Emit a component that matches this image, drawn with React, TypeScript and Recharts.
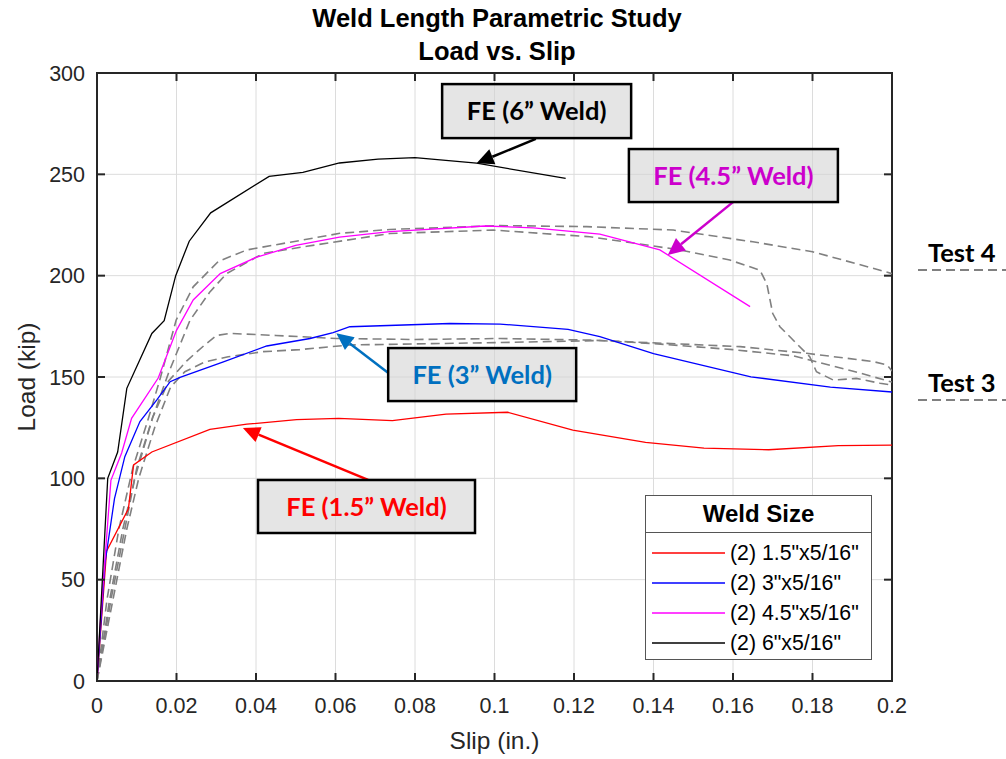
import React from "react";
import {
  LineChart,
  Line,
  XAxis,
  YAxis,
  CartesianGrid,
  ReferenceArea,
  ReferenceLine,
  ReferenceDot,
  Legend,
} from "recharts";

const WIDTH = 1006;
const HEIGHT = 759;
const X_AXIS_H = 30;
const Y_AXIS_W = 60;
// plot box runs 97..892 across and 73..681 down
const MARGIN = { top: 73, right: 114, bottom: 78 - X_AXIS_H, left: 97 - Y_AXIS_W };
const PLOT_W = 795;
const PLOT_H = 608;
const TICK_LEN = 8;
const X_GAP = 17;
const Y_GAP = 12;
const AXIS = "#262626";
const SANS = "'Liberation Sans', Arial, sans-serif";
const CALLOUT_FONT = "Lato, 'Noto Sans', sans-serif";

const xTicks = [0, 0.02, 0.04, 0.06, 0.08, 0.1, 0.12, 0.14, 0.16, 0.18, 0.2];
const yTicks = [0, 50, 100, 150, 200, 250, 300];

// FE curves, [slip (in.), load (kip)]
const fe15: [number, number][] = [
  [0, 0], [0.0024, 64], [0.0079, 85], [0.0092, 106.6], [0.0138, 113], [0.0284, 124.2],
  [0.0377, 126.7], [0.0502, 129], [0.0608, 129.6], [0.0743, 128.5], [0.0878, 131.7],
  [0.1033, 132.6], [0.1197, 123.8], [0.138, 117.7], [0.1527, 114.9], [0.169, 114.1],
  [0.1865, 116.1], [0.2, 116.4],
];
const fe3: [number, number][] = [
  [0, 0], [0.002, 58], [0.0044, 90], [0.007, 110.7], [0.0108, 128], [0.015, 138.6],
  [0.0184, 147.7], [0.0209, 149.8], [0.0318, 157.5], [0.0427, 165.3], [0.0536, 169],
  [0.0594, 171.9], [0.0636, 174.8], [0.0888, 176.4], [0.1014, 176.1], [0.1185, 173.5],
  [0.1265, 169.9], [0.14, 161.5], [0.1645, 150.1], [0.1845, 145], [0.2, 142.6],
];
const fe45: [number, number][] = [
  [0, 0], [0.0008, 28], [0.002, 60], [0.0035, 99], [0.0062, 112.5], [0.0087, 129.6],
  [0.0154, 149.5], [0.02, 173], [0.0242, 188], [0.031, 201], [0.04, 209], [0.05, 215],
  [0.061, 219], [0.0737, 221.7], [0.0976, 224.5], [0.1098, 223.6], [0.1265, 220.5],
  [0.1416, 212.7], [0.1643, 184.7],
];
const fe6: [number, number][] = [
  [0, 0], [0.0027, 100], [0.0052, 113], [0.0075, 144.4], [0.0138, 171.5], [0.0169, 177.8],
  [0.0198, 200], [0.0232, 217], [0.0286, 231], [0.0433, 249], [0.0518, 251], [0.061, 255.6],
  [0.0707, 257.5], [0.08, 258.2], [0.0955, 255.5], [0.1179, 248],
];

// test records (dashed)
const test4a: [number, number][] = [
  [0, 0], [0.0025, 40], [0.0055, 75], [0.009, 105], [0.013, 130], [0.016, 150],
  [0.0199, 178], [0.0242, 194.5], [0.0305, 207], [0.0377, 212.7], [0.0486, 216.5],
  [0.0611, 220.9], [0.0737, 222.8], [0.1014, 224.7], [0.1232, 224.2], [0.145, 222.5],
  [0.165, 216.7], [0.18, 211.8], [0.197, 202.7], [0.2, 201],
];
const test4b: [number, number][] = [
  [0, 0], [0.003, 38], [0.0065, 75], [0.0095, 100], [0.014, 130], [0.018, 152],
  [0.0234, 178], [0.0284, 192], [0.0326, 201], [0.0418, 211], [0.0528, 214.5],
  [0.0737, 220.8], [0.0997, 222.5], [0.124, 219.2], [0.1467, 212.7], [0.1592, 207.7],
  [0.1668, 202.7], [0.1685, 196], [0.17, 181.3], [0.1718, 174.8], [0.176, 166.5],
  [0.1793, 160], [0.181, 152.6], [0.1852, 148.5], [0.191, 149.3], [0.197, 146.9], [0.2, 146],
];
const test3a: [number, number][] = [
  [0, 0], [0.0035, 40], [0.007, 75], [0.01, 105], [0.014, 130], [0.018, 148],
  [0.0226, 158], [0.0272, 166], [0.0301, 170.5], [0.0335, 171.5], [0.045, 170.5],
  [0.0603, 169], [0.08, 168.5], [0.1014, 169], [0.124, 168.2], [0.1618, 165],
  [0.1785, 161.7], [0.1953, 157.6], [0.1987, 156], [0.2, 153],
];
const test3b: [number, number][] = [
  [0, 0], [0.004, 40], [0.0075, 75], [0.0105, 100], [0.0145, 125], [0.0185, 145],
  [0.0221, 152.6], [0.0272, 157.5], [0.033, 160], [0.0418, 162.5], [0.051, 163.5],
  [0.0636, 165.8], [0.1014, 167], [0.1265, 168], [0.14, 166.5], [0.16, 163.5],
  [0.175, 160.5], [0.19, 153], [0.2, 147.5],
];

const feSeries = [
  { name: '(2) 1.5"x5/16"', color: "#ff0000", points: fe15 },
  { name: '(2) 3"x5/16"', color: "#0000ff", points: fe3 },
  { name: '(2) 4.5"x5/16"', color: "#ff00ff", points: fe45 },
  { name: '(2) 6"x5/16"', color: "#000000", points: fe6 },
];
const testSeries = [
  { name: "Test 4a", points: test4a },
  { name: "Test 4b", points: test4b },
  { name: "Test 3a", points: test3a },
  { name: "Test 3b", points: test3b },
];

// callouts: box centre and arrow in data units, box size in px
const callouts = [
  { text: "FE (6\u201D Weld)", color: "#000000", box: [0.1106, 281.2], w: 189, h: 54, from: [0.1104, 267.5], to: [0.0955, 255.5] },
  { text: "FE (4.5\u201D Weld)", color: "#cc00cc", box: [0.1601, 249.4], w: 209, h: 53, from: [0.16, 236.3], to: [0.1436, 210.2] },
  { text: "FE (3\u201D Weld)", color: "#0070c0", box: [0.0969, 151.2], w: 188, h: 53, from: [0.0733, 152], to: [0.0602, 171.6] },
  { text: "FE (1.5\u201D Weld)", color: "#ff0000", box: [0.0678, 86.1], w: 217, h: 53, from: [0.0682, 99.2], to: [0.0367, 124.8] },
];

const toRows = (pts: [number, number][]) => pts.map(([slip, load]) => ({ slip, load }));
const fmtX = (v: number) => String(Number(v.toFixed(2)));

const XTick = (props: any) => {
  const { x, y, payload } = props;
  const axisY = y - X_GAP;
  return (
    <g>
      <line x1={x} x2={x} y1={axisY} y2={axisY - TICK_LEN} stroke={AXIS} strokeWidth={2} />
      <line x1={x} x2={x} y1={axisY - PLOT_H} y2={axisY - PLOT_H + TICK_LEN} stroke={AXIS} strokeWidth={2} />
      <text x={x} y={y} dy="0.71em" textAnchor="middle" fill={AXIS} fontFamily={SANS} fontSize={21.5}>
        {fmtX(payload.value)}
      </text>
    </g>
  );
};

const YTick = (props: any) => {
  const { x, y, payload } = props;
  const axisX = x + Y_GAP;
  return (
    <g>
      <line x1={axisX} x2={axisX + TICK_LEN} y1={y} y2={y} stroke={AXIS} strokeWidth={2} />
      <line x1={axisX + PLOT_W} x2={axisX + PLOT_W - TICK_LEN} y1={y} y2={y} stroke={AXIS} strokeWidth={2} />
      <text x={x} y={y} dy="0.35em" textAnchor="end" fill={AXIS} fontFamily={SANS} fontSize={21.5}>
        {payload.value}
      </text>
    </g>
  );
};

const arrowShape = (color: string) => (props: any) => {
  const { x1, y1, x2, y2 } = props;
  const a = Math.atan2(y2 - y1, x2 - x1);
  const len = 17;
  const half = 8;
  const bx = x2 - len * Math.cos(a);
  const by = y2 - len * Math.sin(a);
  const pts = [
    `${x2},${y2}`,
    `${bx - half * Math.sin(a)},${by + half * Math.cos(a)}`,
    `${bx + half * Math.sin(a)},${by - half * Math.cos(a)}`,
  ].join(" ");
  return (
    <g>
      <line x1={x1} y1={y1} x2={bx} y2={by} stroke={color} strokeWidth={2.5} />
      <polygon points={pts} fill={color} />
    </g>
  );
};

const boxShape = (c: (typeof callouts)[number]) => (props: any) => {
  const { cx, cy } = props;
  return (
    <g>
      <rect x={cx - c.w / 2} y={cy - c.h / 2} width={c.w} height={c.h} fill="#d4d4d4" fillOpacity={0.6} stroke="#000" strokeWidth={2.5} />
      <text x={cx} y={cy} dy="0.36em" textAnchor="middle" fill={c.color} fontFamily={CALLOUT_FONT} fontWeight="bold" fontSize={25.5}>
        {c.text}
      </text>
    </g>
  );
};

const LegendBox = (props: any) => {
  const items = feSeries.filter((s) => (props.payload || []).some((p: any) => p.value === s.name));
  return (
    <div style={{ width: 225, height: 163, border: "1.5px solid #555", background: "#fff", fontFamily: SANS, color: "#000" }}>
      <div style={{ height: 36, lineHeight: "36px", textAlign: "center", fontWeight: "bold", fontSize: 24, borderBottom: "1.5px solid #555" }}>
        Weld Size
      </div>
      <div style={{ paddingTop: 5 }}>
        {items.map((it) => (
          <div key={it.name} style={{ display: "flex", alignItems: "center", height: 30 }}>
            <svg width={73} height={4} style={{ marginLeft: 6, display: "block" }}>
              <line x1={0} x2={73} y1={2} y2={2} stroke={it.color} strokeWidth={1.3} />
            </svg>
            <span style={{ marginLeft: 5, fontSize: 21.3 }}>{it.name}</span>
          </div>
        ))}
      </div>
    </div>
  );
};

const TestKey = ({ label, top }: { label: string; top: number }) => (
  <div style={{ position: "absolute", left: 918, top, width: 88 }}>
    <div style={{ fontFamily: CALLOUT_FONT, fontWeight: "bold", fontSize: 25.5, color: "#000", paddingLeft: 10, lineHeight: "26px" }}>
      {label}
    </div>
    <svg width={88} height={6} style={{ display: "block", marginTop: 2 }}>
      <line x1={0} x2={88} y1={3} y2={3} stroke="#808080" strokeWidth={2} strokeDasharray="9 5" />
    </svg>
  </div>
);

export default function App() {
  return (
    <div style={{ position: "absolute", left: 0, top: 0, width: WIDTH, height: HEIGHT, background: "#fff" }}>
      <div style={{ position: "absolute", left: 0, width: 994, top: 2, textAlign: "center", fontFamily: SANS, fontWeight: "bold", fontSize: 25.5, lineHeight: "33px", color: "#000" }}>
        Weld Length Parametric Study
        <br />
        Load vs. Slip
      </div>
      <LineChart width={WIDTH} height={HEIGHT} margin={MARGIN}>
        <CartesianGrid stroke="#dcdcdc" strokeWidth={1} />
        <XAxis
          type="number"
          dataKey="slip"
          domain={[0, 0.2]}
          ticks={xTicks}
          interval={0}
          allowDataOverflow
          height={X_AXIS_H}
          tickSize={0}
          tickMargin={X_GAP}
          tickLine={false}
          axisLine={false}
          tick={<XTick />}
        />
        <YAxis
          type="number"
          domain={[0, 300]}
          ticks={yTicks}
          interval={0}
          allowDataOverflow
          width={Y_AXIS_W}
          tickSize={0}
          tickMargin={Y_GAP}
          tickLine={false}
          axisLine={false}
          tick={<YTick />}
        />
        {testSeries.map((s) => (
          <Line
            key={s.name}
            name={s.name}
            data={toRows(s.points)}
            dataKey="load"
            stroke="#808080"
            strokeWidth={1.6}
            strokeDasharray="9 5"
            dot={false}
            legendType="none"
            isAnimationActive={false}
          />
        ))}
        {feSeries.map((s) => (
          <Line
            key={s.name}
            name={s.name}
            data={toRows(s.points)}
            dataKey="load"
            stroke={s.color}
            strokeWidth={1.3}
            dot={false}
            isAnimationActive={false}
          />
        ))}
        <ReferenceArea x1={0} x2={0.2} y1={0} y2={300} fill="none" stroke={AXIS} strokeWidth={2} />
        {callouts.map((c) => (
          <ReferenceLine
            key={c.text + "-arrow"}
            segment={[{ x: c.from[0], y: c.from[1] }, { x: c.to[0], y: c.to[1] }]}
            shape={arrowShape(c.color)}
          />
        ))}
        {callouts.map((c) => (
          <ReferenceDot key={c.text} x={c.box[0]} y={c.box[1]} r={1} shape={boxShape(c)} />
        ))}
        <Legend
          layout="horizontal"
          verticalAlign="middle"
          align="center"
          wrapperStyle={{ left: 645, top: 495, width: 227, height: 165 }}
          content={<LegendBox />}
        />
      </LineChart>
      <div style={{ position: "absolute", left: 27, top: 377, height: 0, width: 0 }}>
        <div style={{ position: "absolute", left: 0, top: 0, transform: "translate(-50%, -50%) rotate(-90deg)", whiteSpace: "nowrap", fontFamily: SANS, fontSize: 24.5, color: AXIS }}>
          Load (kip)
        </div>
      </div>
      <div style={{ position: "absolute", left: 97, width: 795, top: 727, textAlign: "center", fontFamily: SANS, fontSize: 24.5, color: AXIS }}>
        Slip (in.)
      </div>
      <TestKey label="Test 4" top={239} />
      <TestKey label="Test 3" top={369} />
    </div>
  );
}
